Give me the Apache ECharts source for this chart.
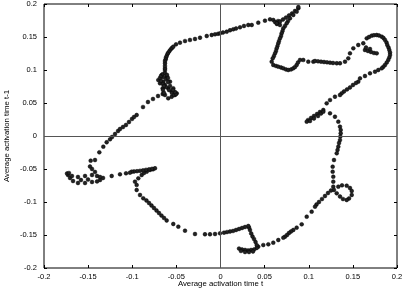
<!DOCTYPE html>
<html>
<head>
<meta charset="utf-8">
<script src="https://cdn.jsdelivr.net/npm/echarts@6/dist/echarts.min.js"></script>
<style>
html,body{margin:0;padding:0;background:#fff;}
#chart{width:403px;height:290px;}
</style>
</head>
<body>
<div id="chart"></div>
<script>
// Average activation at time t (x) and at time t-1 (y), in trajectory order
const actT = [
-0.0655,-0.0629,-0.0592,-0.0553,-0.0516,-0.0496,-0.0535,-0.0553,-0.0592,-0.0629,-0.0686,-0.0705,-0.0666,-0.0648,-0.0610,-0.0572,-0.0655,
-0.0686,-0.0674,-0.0652,-0.0618,-0.0584,-0.0550,-0.0527,-0.0504,-0.0516,-0.0538,-0.0572,-0.0595,-0.0618,-0.0652,-0.0674,-0.0652,-0.0629,-0.0606,-0.0595,-0.0640,-0.0652,-0.0640,
-0.0629,-0.0629,-0.0629,-0.0629,-0.0629,-0.0621,-0.0618,-0.0610,-0.0601,-0.0592,-0.0578,-0.0564,-0.0550,-0.0535,-0.0504,-0.0459,-0.0402,-0.0346,-0.0289,-0.0232,-0.0156,-0.0100,-0.0062,-0.0028,-0.0006,0.0028,0.0070,0.0108,0.0145,0.0176,0.0221,0.0266,0.0315,0.0354,0.0428,0.0504,0.0561,
0.0598,0.0618,0.0640,0.0674,0.0652,0.0637,0.0674,0.0708,0.0742,0.0776,0.0810,0.0844,0.0882,0.0882,0.0863,0.0825,0.0788,0.0765,0.0750,0.0731,0.0712,0.0703,0.0693,0.0686,0.0674,0.0663,0.0655,0.0646,0.0637,0.0629,0.0618,0.0606,0.0592,0.0580,
0.0598,0.0629,0.0655,0.0686,0.0712,0.0742,0.0768,0.0799,0.0825,0.0844,0.0863,0.0878,0.0901,0.0938,0.0995,0.1052,0.1071,0.1105,0.1139,0.1173,0.1207,0.1241,0.1275,0.1317,0.1354,0.1411,0.1448,0.1467,0.1505,0.1561,0.1618,
0.1637,0.1671,0.1705,0.1739,0.1770,0.1649,0.1694,
0.1657,0.1683,0.1713,0.1739,0.1770,0.1796,0.1827,0.1847,0.1864,0.1881,0.1890,0.1904,0.1913,0.1921,0.1921,0.1913,0.1901,0.1884,0.1864,0.1845,0.1827,0.1788,0.1751,0.1694,0.1637,0.1581,
0.1561,0.1535,0.1501,0.1467,0.1433,0.1399,0.1373,0.1354,0.1297,0.1241,0.1203,
0.1165,0.1127,0.1094,0.1059,0.1026,0.0992,0.0977,0.1014,0.1059,0.1105,0.1139,0.1165,
0.1241,0.1297,0.1335,0.1354,0.1362,0.1362,0.1358,0.1354,0.1343,0.1335,0.1326,0.1317,0.1286,0.1271,0.1271,0.1278,0.1278,0.1278,
0.1335,0.1377,0.1430,0.1467,0.1487,0.1487,0.1456,0.1430,0.1388,0.1354,0.1317,0.1286,
0.1252,0.1218,0.1184,0.1150,0.1116,0.1088,0.1071,0.1033,0.0977,0.0920,0.0863,0.0825,0.0799,0.0776,0.0754,0.0731,0.0712,0.0655,0.0598,0.0542,0.0485,0.0428,
0.0410,0.0380,0.0346,0.0312,0.0278,0.0244,0.0210,0.0232,0.0278,0.0323,0.0368,
0.0410,0.0397,0.0380,0.0363,0.0348,0.0334,0.0323,0.0315,
0.0278,0.0244,0.0210,0.0176,0.0142,0.0108,0.0074,0.0040,-0.0006,-0.0062,-0.0119,-0.0176,-0.0289,-0.0402,-0.0478,-0.0535,
-0.0610,-0.0640,-0.0669,-0.0697,-0.0725,-0.0754,-0.0782,-0.0810,-0.0839,-0.0875,-0.0912,-0.0950,-0.0950,-0.0969,-0.0931,-0.0893,-0.0867,-0.0836,-0.0799,-0.0765,-0.0742,
-0.0776,-0.0810,-0.0844,-0.0878,-0.0912,-0.0946,-0.0980,-0.1006,-0.1026,-0.1071,-0.1139,-0.1233,
-0.1331,-0.1365,-0.1399,-0.1456,-0.1535,-0.1615,-0.1671,-0.1705,-0.1728,-0.1739,-0.1717,-0.1683,-0.1615,-0.1535,-0.1456,-0.1399,-0.1365,-0.1581,-0.1501,
-0.1422,-0.1456,-0.1479,-0.1471,-0.1422,-0.1373,-0.1328,-0.1290,-0.1252,-0.1229,-0.1195,-0.1161,-0.1139,-0.1105,-0.1071,-0.1037,-0.1003,-0.0980,-0.0950,-0.0878,-0.0822,-0.0765,-0.0708
];
const actTminus1 = [
0.0636,0.0621,0.0571,0.0595,0.0621,0.0647,0.0723,0.0671,0.0723,0.0773,0.0798,0.0848,0.0924,0.0823,0.0898,0.0823,0.0723,
0.0879,0.0833,0.0788,0.0742,0.0697,0.0652,0.0621,0.0636,0.0667,0.0697,0.0758,0.0818,0.0864,0.0894,0.0909,0.0939,0.0955,0.0924,0.0879,0.0758,0.0697,0.0652,
0.1000,0.1026,0.1061,0.1102,0.1136,0.1162,0.1189,0.1212,0.1242,0.1262,0.1288,0.1314,0.1333,0.1353,0.1389,0.1414,0.1439,0.1455,0.1470,0.1489,0.1515,0.1530,0.1541,0.1548,0.1556,0.1568,0.1580,0.1602,0.1617,0.1629,0.1647,0.1667,0.1682,0.1682,0.1717,0.1747,0.1768,
0.1758,0.1727,0.1697,0.1682,0.1742,0.1708,0.1735,0.1765,0.1795,0.1826,0.1856,0.1894,0.1935,0.1955,0.1883,0.1833,0.1783,0.1742,0.1708,0.1667,0.1632,0.1591,0.1556,0.1515,0.1480,0.1439,0.1405,0.1364,0.1329,0.1288,0.1253,0.1212,0.1177,0.1126,
0.1076,0.1061,0.1050,0.1038,0.1026,0.1008,0.1000,0.1008,0.1026,0.1045,0.1076,0.1114,0.1152,0.1152,0.1126,0.1126,0.1136,0.1132,0.1126,0.1121,0.1117,0.1111,0.1106,0.1102,0.1102,0.1126,0.1177,0.1253,0.1329,0.1379,0.1405,
0.1303,0.1288,0.1273,0.1258,0.1253,0.1341,0.1318,
0.1480,0.1500,0.1520,0.1527,0.1530,0.1523,0.1505,0.1485,0.1455,0.1417,0.1379,0.1341,0.1303,0.1265,0.1227,0.1189,0.1152,0.1114,0.1076,0.1048,0.1026,0.1000,0.0974,0.0950,0.0909,0.0874,
0.0823,0.0803,0.0773,0.0735,0.0705,0.0674,0.0647,0.0621,0.0595,0.0545,0.0495,
0.0394,0.0364,0.0333,0.0303,0.0273,0.0242,0.0217,0.0227,0.0265,0.0303,0.0341,0.0368,
0.0344,0.0292,0.0217,0.0141,0.0091,0.0041,-0.0008,-0.0061,-0.0106,-0.0162,-0.0212,-0.0262,-0.0364,-0.0465,-0.0541,-0.0617,-0.0692,-0.0768,
-0.0768,-0.0747,-0.0753,-0.0788,-0.0833,-0.0894,-0.0947,-0.0970,-0.0955,-0.0917,-0.0868,-0.0818,
-0.0826,-0.0864,-0.0909,-0.0955,-0.1000,-0.1038,-0.1071,-0.1147,-0.1223,-0.1338,-0.1389,-0.1424,-0.1447,-0.1470,-0.1500,-0.1526,-0.1541,-0.1576,-0.1617,-0.1641,-0.1652,-0.1677,
-0.1697,-0.1720,-0.1727,-0.1735,-0.1727,-0.1720,-0.1705,-0.1742,-0.1758,-0.1758,-0.1750,
-0.1652,-0.1606,-0.1561,-0.1523,-0.1477,-0.1424,-0.1386,-0.1364,
-0.1379,-0.1394,-0.1409,-0.1424,-0.1439,-0.1447,-0.1455,-0.1465,-0.1474,-0.1485,-0.1489,-0.1489,-0.1485,-0.1435,-0.1374,-0.1333,
-0.1280,-0.1242,-0.1205,-0.1167,-0.1129,-0.1091,-0.1053,-0.1015,-0.0977,-0.0944,-0.0894,-0.0818,-0.0742,-0.0692,-0.0641,-0.0591,-0.0561,-0.0541,-0.0515,-0.0505,-0.0489,
-0.0497,-0.0505,-0.0512,-0.0520,-0.0527,-0.0533,-0.0538,-0.0541,-0.0556,-0.0565,-0.0580,-0.0606,
-0.0636,-0.0667,-0.0689,-0.0697,-0.0712,-0.0712,-0.0682,-0.0636,-0.0591,-0.0568,-0.0561,-0.0606,-0.0621,-0.0606,-0.0591,-0.0606,-0.0621,-0.0667,-0.0659,
-0.0545,-0.0500,-0.0462,-0.0374,-0.0364,-0.0247,-0.0162,-0.0095,-0.0050,-0.0015,0.0030,0.0076,0.0106,0.0136,0.0167,0.0212,0.0258,0.0288,0.0318,0.0439,0.0515,0.0561,0.0606
];
const tickLabels = ['-0.2','-0.15','-0.1','-0.05','0','0.05','0.1','0.15','0.2'];
const xName = 'Average activation time t';
const yName = 'Average activation time t-1';

const points = actT.map((x, i) => [x, actTminus1[i]]);
const fontFamily = '"Liberation Sans", Arial, sans-serif';
const fmt = v => tickLabels[Math.round((v + 0.2) / 0.05)];

const baseAxis = {
  type: 'value', min: -0.2, max: 0.2, interval: 0.05,
  axisLine: { show: false, onZero: false },
  axisTick: { show: true, inside: true, length: 3, lineStyle: { color: '#000', width: 1 } },
  splitLine: { show: false }
};

const chart = echarts.init(document.getElementById('chart'), null, { renderer: 'canvas' });
chart.setOption({
  animation: false,
  backgroundColor: '#fff',
  grid: { left: 44, right: 6, top: 4, bottom: 22, show: true, borderColor: '#000', borderWidth: 1,
          backgroundColor: 'transparent', containLabel: false, outerBoundsMode: 'none' },
  xAxis: [
    Object.assign({}, baseAxis, {
      position: 'bottom',
      axisLabel: { color: '#000', fontSize: 7.5, fontFamily, margin: 5, formatter: fmt },
      name: xName, nameLocation: 'middle', nameGap: 12, nameMoveOverlap: false,
      nameTextStyle: { color: '#000', fontSize: 7.8, fontFamily }
    }),
    Object.assign({}, baseAxis, { position: 'top', axisLabel: { show: false } })
  ],
  yAxis: [
    Object.assign({}, baseAxis, {
      position: 'left',
      axisLabel: { color: '#000', fontSize: 7.5, fontFamily, margin: 7, formatter: fmt },
      name: yName, nameLocation: 'middle', nameGap: 33, nameRotate: 90, nameMoveOverlap: false,
      nameTextStyle: { color: '#000', fontSize: 7.8, fontFamily }
    }),
    Object.assign({}, baseAxis, { position: 'right', axisLabel: { show: false } })
  ],
  series: [{
    type: 'scatter',
    xAxisIndex: 0, yAxisIndex: 0,
    data: points,
    symbol: 'circle',
    symbolSize: 3.8,
    itemStyle: { color: '#222', borderColor: '#000', borderWidth: 0.5, opacity: 1 },
    markLine: {
      silent: true, symbol: 'none', animation: false,
      label: { show: false },
      lineStyle: { color: '#555', width: 1, type: 'solid' },
      data: [{ xAxis: 0 }, { yAxis: 0 }]
    },
    z: 3
  }]
});
</script>
</body>
</html>
